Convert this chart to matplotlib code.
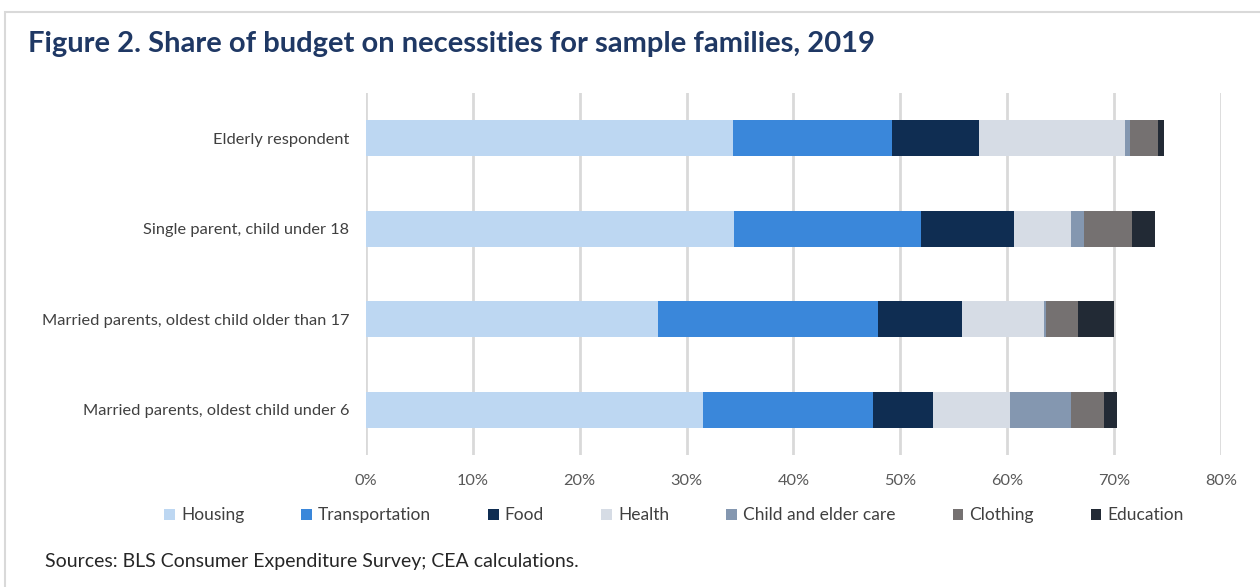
import matplotlib.pyplot as plt
from matplotlib.patches import Rectangle
from matplotlib.ticker import PercentFormatter
import numpy as np

families = [
    "Married parents, oldest child under 6",
    "Married parents, oldest child older than 17",
    "Single parent, child under 18",
    "Elderly respondent",
]
categories = ["Housing", "Transportation", "Food", "Health",
              "Child and elder care", "Clothing", "Education"]
# shares (percent), one list per category, in the order of `families`
housing = [31.5, 27.3, 34.4, 34.35]
transportation = [15.9, 20.6, 17.5, 14.9]
food = [5.7, 7.9, 8.7, 8.15]
health = [7.2, 7.6, 5.4, 13.6]
child_care = [5.7, 0.2, 1.2, 0.5]
clothing = [3.1, 3.0, 4.5, 2.6]
education = [1.2, 3.4, 2.1, 0.6]
series = [housing, transportation, food, health, child_care, clothing, education]
colors = ["#BDD7F2", "#3A87DA", "#0F2D52", "#D6DCE5", "#8497B0", "#757171", "#222A35"]

plt.rcParams["font.family"] = ["Lato", "DejaVu Sans"]

fig = plt.figure(figsize=(12.6, 5.87), dpi=100)
fig.patches.append(Rectangle((0.004, -0.01), 1.2, 0.99, transform=fig.transFigure,
                             fill=False, edgecolor="#D9D9D9", lw=1.5))
ax = fig.add_axes([0.2905, 0.2249, 0.6785, 0.6167])

y = np.arange(len(families))
left = np.zeros(len(families))
for vals, name, c in zip(series, categories, colors):
    ax.barh(y, vals, left=left, height=0.4, color=c, label=name, zorder=3)
    left += np.array(vals)

ax.set_xlim(0, 80)
ax.set_ylim(-0.5, 3.5)
ax.set_xticks(np.arange(0, 81, 10))
ax.xaxis.set_major_formatter(PercentFormatter(decimals=0))
ax.set_yticks(y)
ax.set_yticklabels(families)
ax.grid(axis="x", color="#D9D9D9", lw=2, zorder=0)
for s in ax.spines.values():
    s.set_visible(False)
ax.tick_params(length=0, labelsize=11.8, colors="#404040")
ax.tick_params(axis="x", pad=14, colors="#595959")
ax.tick_params(axis="y", pad=12)

fig.text(0.022, 0.925, "Figure 2. Share of budget on necessities for sample families, 2019",
         fontsize=21, fontweight="bold", color="#1F3864", va="center")
fig.legend(loc="center", bbox_to_anchor=(0.535, 0.122), ncol=7, frameon=False,
           fontsize=12.5, handlelength=0.6, handleheight=0.6, columnspacing=3.3,
           handletextpad=0.35, labelcolor="#404040")
fig.text(0.036, 0.044, "Sources: BLS Consumer Expenditure Survey; CEA calculations.",
         fontsize=14, color="#262626", va="center")

fig.savefig("out.png", dpi=100)
